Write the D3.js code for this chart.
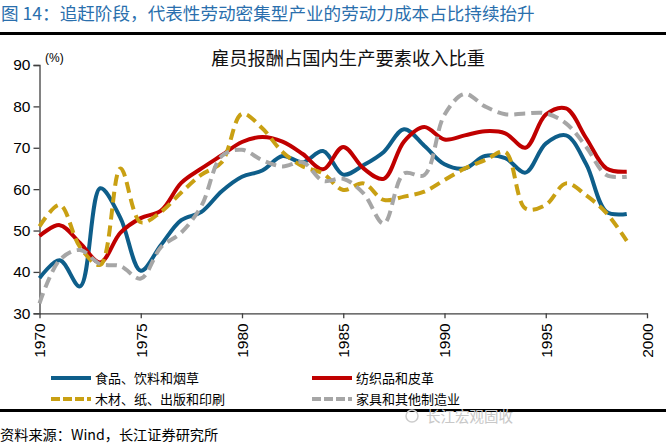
<!DOCTYPE html>
<html><head><meta charset="utf-8">
<script src="https://cdn.jsdelivr.net/npm/d3@7"></script>
<style>
html,body{margin:0;padding:0;background:#fff;}
svg{display:block;font-family:"Liberation Sans",Arial,"Noto Sans CJK SC",sans-serif;}
.cjk{font-family:"Noto Sans CJK SC","Liberation Sans",sans-serif;}
</style></head>
<body>
<script>
const years = d3.range(1970, 2000);
const seriesNames = ["食品、饮料和烟草","纺织品和皮革","木材、纸、出版和印刷","家具和其他制造业"];
const food = [38.5,42.8,36.5,60.2,53,40.3,46.5,52.5,54.5,59.5,63,64.5,68,66.5,69.2,63.5,65.8,69,74.5,70.5,66,65,68,67.5,64,71,73,66,54.5,54];
const textile = [48.7,51.3,47,42.3,49.5,53,54.8,61.5,65,68.2,71.4,72.6,71.5,68.5,64.8,70.2,65,62.5,71.5,75,72,73,74,73.5,70,78,79.5,72.3,65,64.2];
const wood = [51,56.2,46,41.7,65,52,54.5,59.2,63.5,66.5,78.2,74.7,69,65.5,63.8,59.8,61.4,57.4,58.2,59.4,62.2,65,67,69,55.3,56.2,61.4,58.5,54.2,47.5];
const furniture = [32.4,42.9,45.3,41.9,41.4,38.4,46,49.5,56,68,69.5,67,65.5,66.5,62,62.5,59,51.7,63.8,63.4,78,83,80,78.1,78.3,78.3,75.9,70.2,63.4,63];
const yTicks = [30,40,50,60,70,80,90];
const xTicks = [1970,1975,1980,1985,1990,1995,2000];
const colors = ["#0e5e8a","#c00000","#c9a013","#a6a6a6"];
const dashes = [null,null,"11,6","11,6"];
const allSeries = [food, textile, wood, furniture];

const W = 666, H = 446;
const svg = d3.select("body").append("svg").attr("width", W).attr("height", H);

// header
svg.append("text").attr("class","cjk").attr("x",1).attr("y",20)
  .attr("fill","#2a6fad").attr("font-size","17.6px").text("图 14：追赶阶段，代表性劳动密集型产业的劳动力成本占比持续抬升");
svg.append("line").attr("x1",0).attr("x2",W).attr("y1",33.5).attr("y2",33.5)
  .attr("stroke","#000").attr("stroke-width",3);

const x = d3.scaleLinear().domain([1970,2000]).range([39.5,647]);
const y = d3.scaleLinear().domain([30,90]).range([313.3,65]);

// axes
const yAxis = svg.append("g").attr("transform","translate(39.5,0)")
  .call(d3.axisLeft(y).tickValues(yTicks).tickSize(6).tickPadding(3));
yAxis.select(".domain").attr("stroke","#404040").attr("stroke-width",1.3);
yAxis.selectAll(".tick line").attr("stroke","#404040").attr("stroke-width",1.3);
yAxis.selectAll("text").attr("font-size","15.5px").attr("fill","#000")
  .attr("font-family","Liberation Sans, Arial, sans-serif");

const xAxis = svg.append("g").attr("transform","translate(0,313.3)")
  .call(d3.axisBottom(x).tickValues(xTicks).tickFormat(d3.format("d")).tickSize(5).tickSizeOuter(0));
xAxis.select(".domain").attr("stroke","#404040").attr("stroke-width",1.3);
xAxis.selectAll(".tick line").attr("stroke","#404040").attr("stroke-width",1.3);
xAxis.selectAll("text").attr("font-size","15.5px").attr("fill","#000")
  .attr("font-family","Liberation Sans, Arial, sans-serif")
  .attr("transform","rotate(-90)").attr("text-anchor","end")
  .attr("x",-10).attr("y",0).attr("dy","0.35em");

// labels
svg.append("text").attr("x",45).attr("y",62).attr("font-size","12px").text("(%)");
svg.append("text").attr("class","cjk").attr("x",348).attr("y",65).attr("text-anchor","middle")
  .attr("font-size","18.3px").attr("fill","#111").text("雇员报酬占国内生产要素收入比重");

// lines
const line = d3.line().x((d,i)=>x(years[i])).y(d=>y(d)).curve(d3.curveCatmullRom.alpha(0.5));
allSeries.forEach((s,k)=>{
  svg.append("path").datum(s).attr("d",line).attr("fill","none")
    .attr("stroke",colors[k]).attr("stroke-width",4)
    .attr("stroke-dasharray",dashes[k]);
});

// legend
const legPos = [[51,378],[312,378],[51,399],[312,399]];
seriesNames.forEach((n,k)=>{
  const [lx,ly] = legPos[k];
  svg.append("line").attr("x1",lx).attr("x2",lx+40).attr("y1",ly).attr("y2",ly)
    .attr("stroke",colors[k]).attr("stroke-width",4)
    .attr("stroke-dasharray",dashes[k] ? "9,3" : null);
  svg.append("text").attr("class","cjk").attr("x",lx+44).attr("y",ly+5)
    .attr("font-size","13px").attr("fill","#000").text(n);
});

// footer
svg.append("line").attr("x1",0).attr("x2",W).attr("y1",410.5).attr("y2",410.5)
  .attr("stroke","#000").attr("stroke-width",3);
svg.append("circle").attr("cx",412).attr("cy",416).attr("r",6).attr("fill","none").attr("stroke","#ccc").attr("stroke-width",1.5);
svg.append("text").attr("class","cjk").attr("x",426).attr("y",422)
  .attr("font-size","14.5px").attr("fill","#c8c8c8").text("长江宏观固收");
svg.append("text").attr("class","cjk").attr("x",0).attr("y",440)
  .attr("font-size","14.2px").attr("fill","#000").text("资料来源：Wind，长江证券研究所");
</script>
</body></html>
